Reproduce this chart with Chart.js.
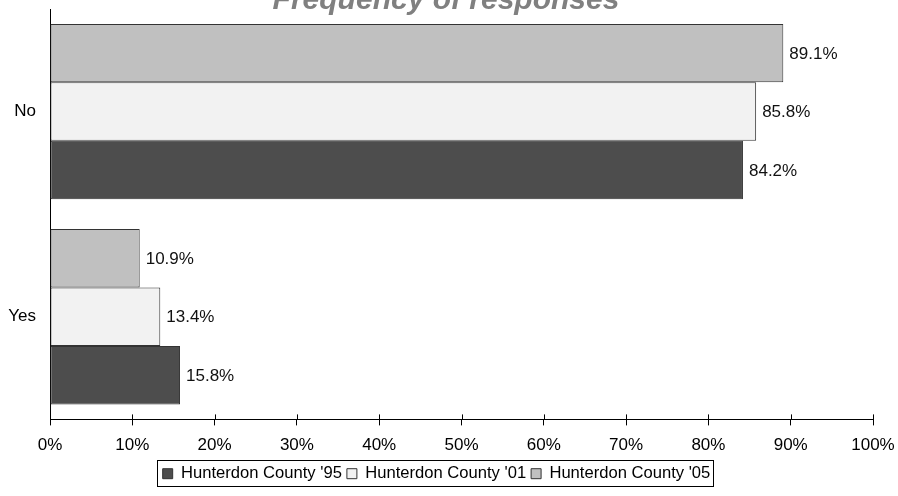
<!DOCTYPE html>
<html>
<head>
<meta charset="utf-8">
<script src="https://cdn.jsdelivr.net/npm/chart.js@4"></script>
<style>
  html, body { margin: 0; padding: 0; background: #fff; }
  #wrap { width: 898px; height: 496px; }
</style>
</head>
<body>
<div id="wrap"><canvas id="chart" width="898" height="496"></canvas></div>
<script>
// data
const categories = ['No', 'Yes'];
const seriesNames = ["Hunterdon County '05", "Hunterdon County '01", "Hunterdon County '95"];
const values05 = [89.1, 10.9];
const values01 = [85.8, 13.4];
const values95 = [84.2, 15.8];
const xTicks = [0, 10, 20, 30, 40, 50, 60, 70, 80, 90, 100];

const FONT = '"Liberation Sans", Arial, sans-serif';

// title sits partly above the canvas, like the original
const titlePlugin = {
    id: 'cutTitle',
    afterDraw(chart) {
        const ctx = chart.ctx;
        ctx.save();
        ctx.font = 'italic bold 30px ' + FONT;
        ctx.fillStyle = '#808080';
        ctx.textAlign = 'center';
        ctx.textBaseline = 'alphabetic';
        ctx.fillText('Frequency of responses', 446, 9);
        ctx.restore();
    }
};

// value labels at the end of each bar
const valueLabels = {
    id: 'valueLabels',
    afterDatasetsDraw(chart) {
        const ctx = chart.ctx;
        ctx.save();
        ctx.font = '17px ' + FONT;
        ctx.fillStyle = '#111';
        ctx.textAlign = 'left';
        ctx.textBaseline = 'middle';
        chart.data.datasets.forEach(function (ds, i) {
            chart.getDatasetMeta(i).data.forEach(function (bar, j) {
                ctx.fillText(ds.data[j].toFixed(1) + '%', bar.x + 6, bar.y + 1);
            });
        });
        ctx.restore();
    }
};

// tick marks crossing the x axis and the box round the legend
const axisExtras = {
    id: 'axisExtras',
    afterDraw(chart) {
        const ctx = chart.ctx;
        const xs = chart.scales.x;
        const bottom = chart.chartArea.bottom;
        ctx.save();
        ctx.strokeStyle = '#000';
        ctx.lineWidth = 1;
        ctx.beginPath();
        xTicks.forEach(function (t) {
            const px = Math.round(xs.getPixelForValue(t)) + 0.5;
            ctx.moveTo(px, bottom - 5);
            ctx.lineTo(px, bottom);
        });
        ctx.stroke();

        const lg = chart.legend;
        if (lg && lg.legendHitBoxes && lg.legendHitBoxes.length) {
            let l = Infinity, r = -Infinity, t = Infinity, b = -Infinity;
            lg.legendHitBoxes.forEach(function (h) {
                l = Math.min(l, h.left); r = Math.max(r, h.left + h.width);
                t = Math.min(t, h.top); b = Math.max(b, h.top + h.height);
            });
            ctx.strokeRect(Math.round(l - 6) + 0.5, Math.round(t - 5) + 0.5,
                Math.round(r - l + 8), Math.round(b - t + 9));
        }
        ctx.restore();
    }
};

const ctx = document.getElementById('chart').getContext('2d');
new Chart(ctx, {
    type: 'bar',
    data: {
        labels: categories,
        datasets: [
            { label: seriesNames[0], data: values05, backgroundColor: '#c0c0c0' },
            { label: seriesNames[1], data: values01, backgroundColor: '#f2f2f2' },
            { label: seriesNames[2], data: values95, backgroundColor: '#4d4d4d' }
        ]
    },
    options: {
        indexAxis: 'y',
        responsive: false,
        animation: false,
        devicePixelRatio: 1,
        layout: { padding: { left: 0, right: 25, top: 9, bottom: 4 } },
        datasets: {
            bar: {
                borderColor: '#333',
                borderWidth: 1,
                borderSkipped: false,
                categoryPercentage: 0.855,
                barPercentage: 1
            }
        },
        scales: {
            x: {
                min: 0,
                max: 100,
                afterBuildTicks(scale) { scale.ticks = xTicks.map(v => ({ value: v })); },
                afterFit(scale) {
                    scale.height = 41;
                    scale.paddingLeft = 0;
                    scale.paddingRight = 0;
                },
                border: { display: true, color: '#000', width: 1 },
                grid: { drawOnChartArea: false, color: '#000', tickLength: 6 },
                ticks: {
                    color: '#000',
                    font: { family: FONT, size: 17 },
                    padding: 10,
                    maxRotation: 0,
                    callback: v => v + '%'
                }
            },
            y: {
                afterFit(scale) {
                    scale.width = 50;
                    scale.paddingTop = 0;
                    scale.paddingBottom = 0;
                },
                border: { display: true, color: '#000', width: 1 },
                grid: { display: false },
                ticks: {
                    color: '#000',
                    font: { family: FONT, size: 17 },
                    padding: 6
                }
            }
        },
        plugins: {
            title: { display: false },
            tooltip: { enabled: false },
            legend: {
                position: 'bottom',
                reverse: true,
                labels: {
                    color: '#000',
                    font: { family: FONT, size: 16.6 },
                    boxWidth: 10,
                    boxHeight: 10,
                    padding: 5
                }
            }
        }
    },
    plugins: [titlePlugin, valueLabels, axisExtras]
});
</script>
</body>
</html>
